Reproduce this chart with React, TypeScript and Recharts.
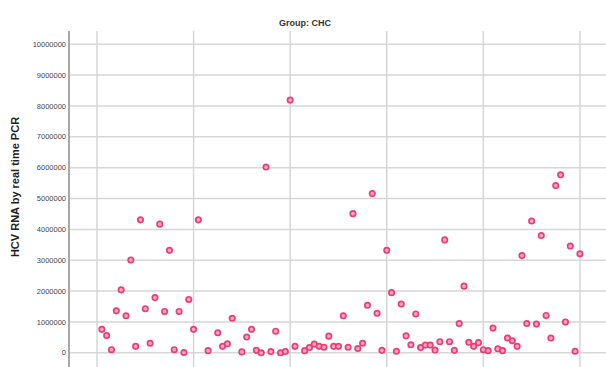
import React from "react";
import { ScatterChart, Scatter, XAxis, YAxis, ReferenceLine } from "recharts";

const caseIds: number[] = [
  1, 2, 3, 4, 5, 6, 7, 8, 9, 10, 11, 12, 13, 14, 15, 16, 17, 18, 19, 20,
  21, 23, 25, 26, 27, 28, 30, 31, 32, 33, 34, 35, 36, 37, 38, 39, 40,
  41, 43, 44, 45, 46, 47, 48, 49, 50, 51, 52, 53, 54, 55, 56, 57, 58, 59, 60,
  61, 62, 63, 64, 65, 66, 67, 68, 69, 70, 71, 72, 73, 74, 75, 76, 77, 78, 79, 80,
  81, 82, 83, 84, 85, 86, 87, 88, 89, 90, 91, 92, 93, 94, 95, 96, 97, 98, 99, 100,
];

const hcvRna: number[] = [
  760000, 560000, 100000, 1360000, 2040000, 1200000, 3010000, 210000, 4310000, 1430000,
  310000, 1790000, 4170000, 1340000, 3320000, 100000, 1340000, 10000, 1730000, 760000,
  4310000, 70000, 650000, 210000, 290000, 1120000, 30000, 510000, 760000, 80000,
  0, 6020000, 40000, 700000, 0, 40000, 8190000,
  210000, 70000, 170000, 280000, 210000, 180000, 540000, 210000, 210000, 1200000,
  180000, 4510000, 140000, 310000, 1540000, 5160000, 1280000, 80000, 3320000,
  1950000, 50000, 1580000, 550000, 260000, 1260000, 170000, 250000, 250000, 90000,
  360000, 3660000, 360000, 80000, 950000, 2160000, 340000, 210000, 330000, 100000,
  70000, 800000, 130000, 70000, 480000, 390000, 210000, 3150000, 950000, 4270000,
  930000, 3800000, 1210000, 480000, 5420000, 5770000, 1000000, 3460000, 50000, 3210000,
];

const yTicks: number[] = [0, 1000000, 2000000, 3000000, 4000000, 5000000, 6000000, 7000000, 8000000, 9000000, 10000000];
const xTicks: number[] = [0, 20, 40, 60, 80, 100];

const title = "Group: CHC";
const yLabel = "HCV RNA by real time PCR";

const data = caseIds.map((id, i) => ({ x: id, y: hcvRna[i] }));

const Dot = (props: any) => {
  const { cx, cy } = props;
  if (cx == null || cy == null) return null;
  return <circle cx={cx} cy={cy} r={2.7} fill="#f7a6c0" stroke="#ea3f76" strokeWidth={1.7} />;
};

export default function App() {
  return (
    <div style={{ position: "absolute", left: 0, top: 0, width: 606, height: 367, overflow: "hidden", background: "#fff" }}>
      <ScatterChart width={606} height={367} margin={{ top: 31, right: 0, bottom: 0, left: 0 }}>
        <XAxis
          type="number"
          dataKey="x"
          domain={[-5.8, 105.4]}
          ticks={xTicks}
          allowDataOverflow
          height={0}
          tick={false}
          axisLine={false}
          tickLine={false}
        />
        <YAxis
          type="number"
          dataKey="y"
          domain={[-460000, 10430000]}
          ticks={yTicks}
          allowDataOverflow
          width={69}
          tickSize={0}
          tickMargin={3}
          tickLine={false}
          axisLine={{ stroke: "#a8a8a8", strokeWidth: 2 }}
          tick={{ fontSize: 7.5, fill: "#444", fontFamily: "Liberation Sans, Arial, sans-serif" }}
          interval={0}
        />
        {yTicks.map((t) => (
          <ReferenceLine key={"h" + t} y={t} stroke="#d6d6d6" strokeWidth={1.5} />
        ))}
        {xTicks.map((t) => (
          <ReferenceLine key={"v" + t} x={t} stroke="#d6d6d6" strokeWidth={1.5} />
        ))}
        <Scatter data={data} isAnimationActive={false} shape={Dot} />
      </ScatterChart>
      <div
        style={{
          position: "absolute",
          left: 0,
          width: 610,
          top: 18,
          textAlign: "center",
          fontFamily: "Liberation Sans, Arial, sans-serif",
          fontWeight: "bold",
          fontSize: 9,
          color: "#333",
          lineHeight: "10px",
        }}
      >
        {title}
      </div>
      <div
        style={{
          position: "absolute",
          left: 15,
          top: 187,
          transform: "translate(-50%, -50%) rotate(-90deg)",
          whiteSpace: "nowrap",
          fontFamily: "Liberation Sans, Arial, sans-serif",
          fontWeight: "bold",
          fontSize: 11,
          color: "#222",
          lineHeight: "12px",
        }}
      >
        {yLabel}
      </div>
    </div>
  );
}
